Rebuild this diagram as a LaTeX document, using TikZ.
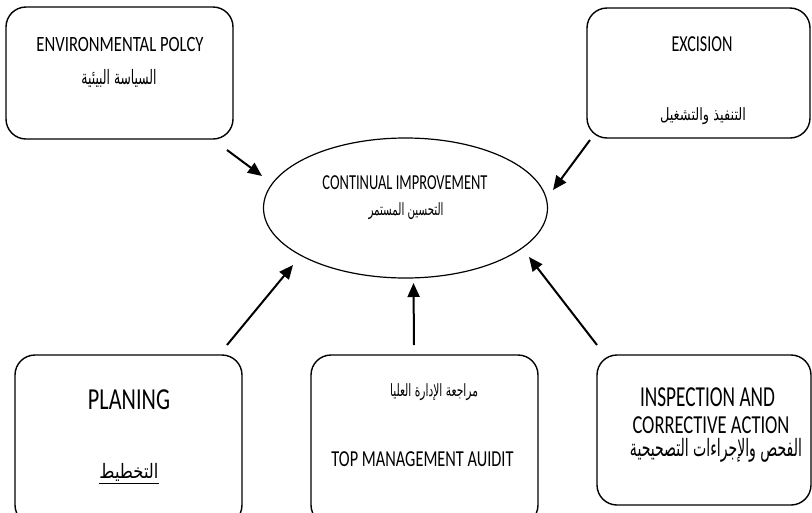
\documentclass[tikz,border=0pt]{standalone}
\usepackage{fontspec}
\usepackage{graphicx}
\setmainfont{Carlito}
\newfontfamily\arfont[Script=Arabic]{DejaVu Sans}
\TeXXeTstate=1
\usetikzlibrary{arrows.meta,shapes.geometric}
\newcommand{\fitbox}[3]{\resizebox*{#1pt}{#2pt}{#3}}
\newcommand{\artxt}[1]{{\arfont\beginR #1\endR}}
\begin{document}
\begin{tikzpicture}[x=1pt,y=-1pt,
  box/.style={draw, rounded corners=20pt, line width=1.4pt, inner sep=0pt},
  arr/.style={-{Triangle[length=14pt,width=12pt]}, line width=2pt},
  txt/.style={inner sep=0pt, anchor=center}]
\useasboundingbox (0,0) rectangle (812,512);

% boxes
\node[box, minimum width=227pt, minimum height=132pt] (tl) at (119.5,73) {};
\node[box, minimum width=223pt, minimum height=130pt] (tr) at (698.5,73) {};
\node[box, minimum width=227pt, minimum height=170pt] (bl) at (128.5,440) {};
\node[box, minimum width=227pt, minimum height=170pt] (bm) at (424.5,440) {};
\node[box, minimum width=214pt, minimum height=150pt] (br) at (704,430) {};
\node[draw, ellipse, line width=1.2pt, minimum width=284pt, minimum height=140pt, inner sep=0pt] (ell) at (405.5,208) {};

% texts
\node[txt] (tla) at (120,44.5) {\fitbox{167}{14.3}{ENVIRONMENTAL POLCY}};
\node[txt] (tlb) at (119,78) {\fitbox{75}{18}{\artxt{السياسة البيئية}}};
\node[txt] (tra) at (702,44) {\fitbox{61}{15}{EXCISION}};
\node[txt] (trb) at (703,116.5) {\fitbox{86}{17}{\artxt{التنفيذ والتشغيل}}};
\node[txt] (ea) at (405,183) {\fitbox{165}{14}{CONTINUAL IMPROVEMENT}};
\node[txt] (eb) at (406,211.5) {\fitbox{75}{17}{\artxt{التحسين المستمر}}};
\node[txt] (bla) at (129,400) {\fitbox{82}{20}{PLANING}};
\node[txt] (blb) at (129,474) {\fitbox{59}{22}{\underline{\artxt{التخطيط}}}};
\node[txt] (bma) at (434,392) {\fitbox{88}{17}{\artxt{مراجعة الإدارة العليا}}};
\node[txt] (bmb) at (422.5,459.5) {\fitbox{182}{15}{TOP MANAGEMENT AUIDIT}};
\node[txt] (bra) at (707.5,397.5) {\fitbox{135}{19}{INSPECTION AND}};
\node[txt] (brb) at (711,425) {\fitbox{157}{17}{CORRECTIVE ACTION}};
\node[txt] (brc) at (716,450) {\fitbox{172}{24}{\artxt{الفحص والإجراءات التصحيحية}}};

% arrow end points
\coordinate (t1) at (227,150); \coordinate (h1) at (262,176);
\coordinate (t2) at (590,140); \coordinate (h2) at (553,190);
\coordinate (t3) at (227,345); \coordinate (h3) at (293,265);
\coordinate (t4) at (414,345); \coordinate (h4) at (413.5,283);
\coordinate (t5) at (597,345); \coordinate (h5) at (529,257);

\draw[arr] (t1) -- (h1);
\draw[arr] (t2) -- (h2);
\draw[arr] (t3) -- (h3);
\draw[arr] (t4) -- (h4);
\draw[arr] (t5) -- (h5);
\end{tikzpicture}
\end{document}
